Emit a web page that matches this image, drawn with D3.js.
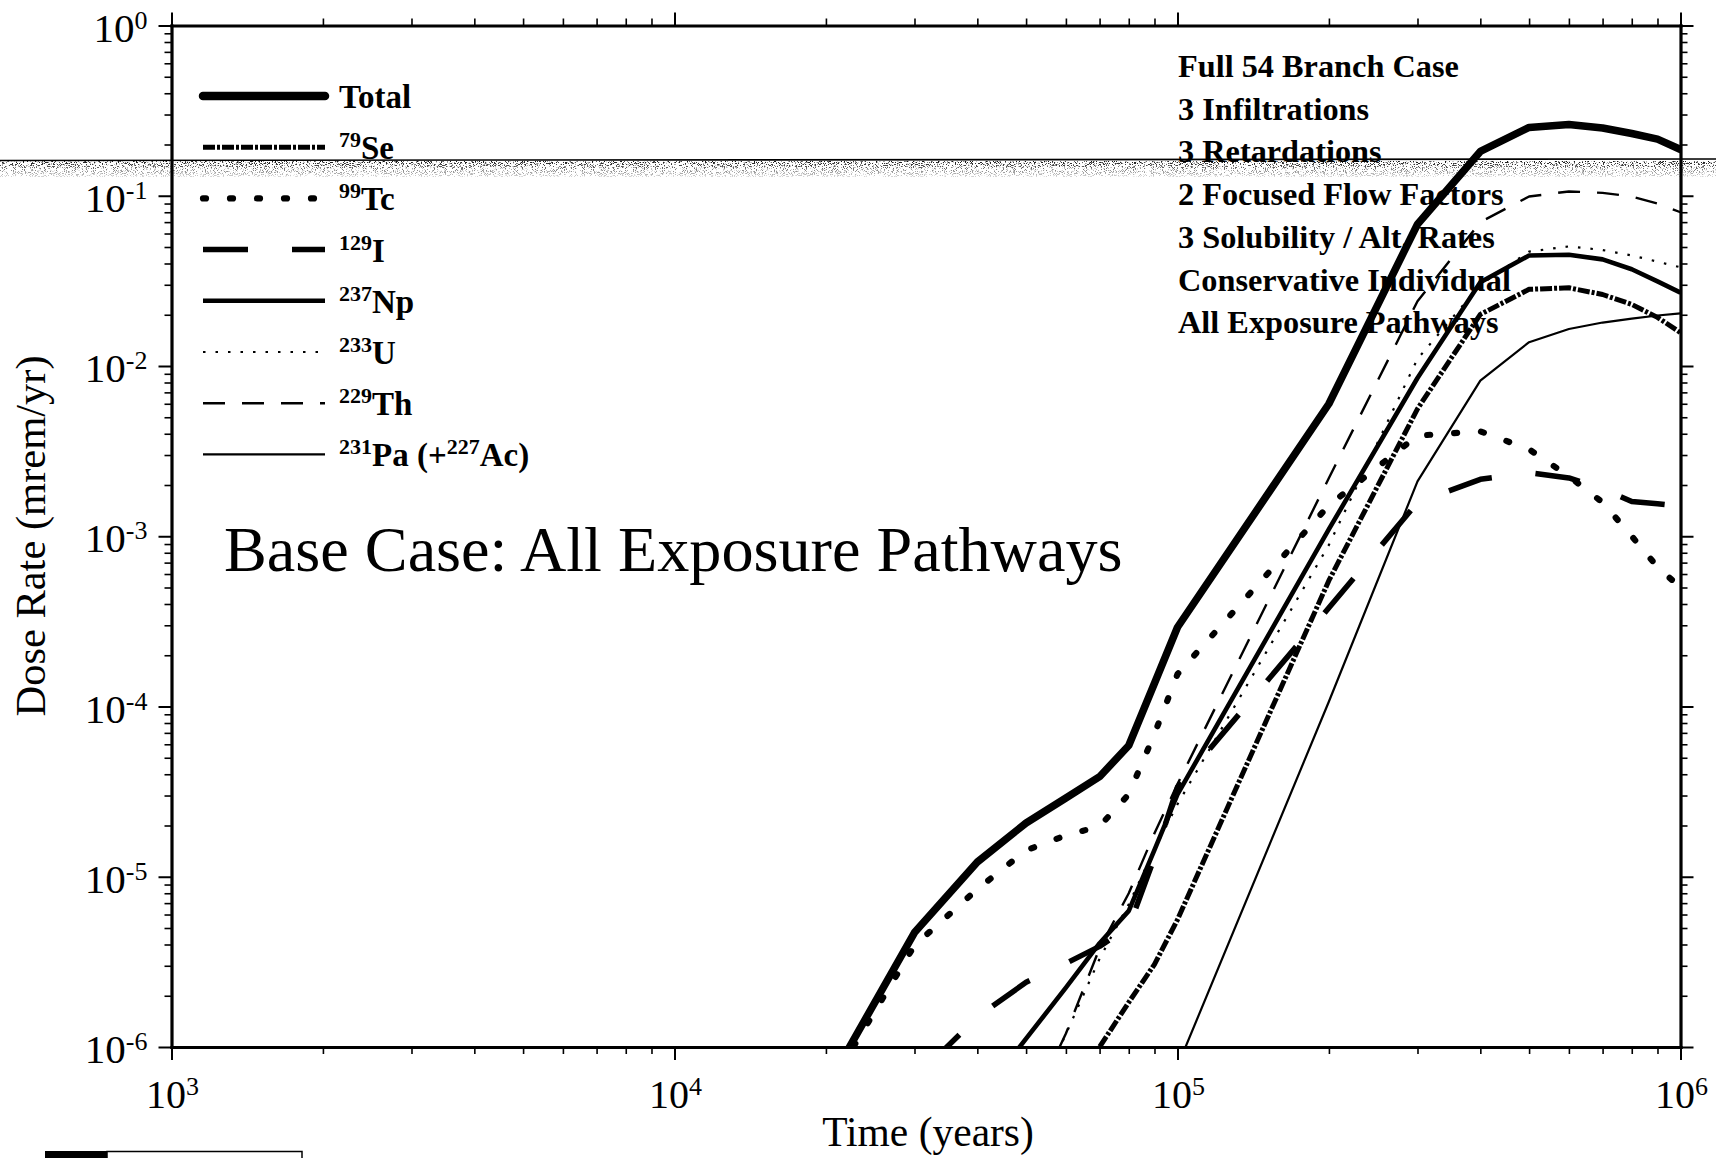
<!DOCTYPE html>
<html>
<head>
<meta charset="utf-8">
<script src="https://cdn.jsdelivr.net/npm/d3@7"></script>
<style>
  html, body { margin: 0; padding: 0; background: #fff; }
  svg { display: block; }
  text { font-family: "Liberation Serif", "Times New Roman", Times, serif; fill: #000; }
</style>
</head>
<body>
<svg id="chart" width="1716" height="1158"></svg>
<script>
// Time steps of the dose-rate history (years)
const times = [2e4, 3e4, 4e4, 5e4, 6e4, 7e4, 8e4, 9e4, 1e5, 2e5, 3e5, 4e5, 5e5, 6e5, 7e5, 8e5, 9e5, 1e6];

// Dose rate (mrem/yr) for each radionuclide; null = not yet released
const total = [5.7e-7, 4.7e-6, 1.22e-5, 2.07e-5, 2.9e-5, 3.87e-5, 5.9e-5, 1.37e-4, 2.92e-4, 6.0e-3, 0.068, 0.182, 0.252, 0.262, 0.25, 0.232, 0.215, 0.187];
const se79  = [null, null, null, null, 4.0e-7, 1.0e-6, 1.83e-6, 3.06e-6, 5.6e-6, 5.5e-4, 5.6e-3, 0.0201, 0.0282, 0.0288, 0.0263, 0.023, 0.0193, 0.0157];
const tc99  = [5.4e-7, 3.95e-6, 8.45e-6, 1.43e-5, 1.75e-5, 1.98e-5, 3.05e-5, 6.9e-5, 1.55e-4, 1.52e-3, 3.9e-3, 4.13e-3, 3.24e-3, 2.25e-3, 1.58e-3, 1.0e-3, 6.6e-4, 5.0e-4];
const i129  = [null, 6.5e-7, 1.5e-6, 2.4e-6, 3.1e-6, 3.9e-6, 5.05e-6, 1.3e-5, 3.36e-5, 3.8e-4, 1.58e-3, 2.16e-3, 2.36e-3, 2.2e-3, 1.9e-3, 1.6e-3, 1.55e-3, 1.5e-3];
const np237 = [null, null, 4.8e-7, 1.12e-6, 2.23e-6, 4.07e-6, 6.3e-6, 1.44e-5, 3.05e-5, 1.1e-3, 8.5e-3, 0.031, 0.0446, 0.045, 0.0423, 0.037, 0.0314, 0.027];
const u233  = [null, null, null, 3.7e-7, 1.19e-6, 3.3e-6, 6.9e-6, 1.45e-5, 2.67e-5, 8.9e-4, 0.011, 0.030, 0.047, 0.0504, 0.048, 0.0446, 0.041, 0.038];
const th229 = [null, null, null, 3.8e-7, 1.2e-6, 3.8e-6, 8.0e-6, 1.8e-5, 3.5e-5, 2.2e-3, 0.024, 0.07, 0.099, 0.106, 0.104, 0.099, 0.09, 0.08];
const pa231 = [null, null, null, null, null, null, null, null, 7.7e-7, 1.07e-4, 2.1e-3, 8.2e-3, 0.0138, 0.0165, 0.018, 0.019, 0.0198, 0.0204];

// Legend labels: [text, isSuperscript]
const legendLabels = {
  total: [["Total", false]],
  se79:  [["79", true], ["Se", false]],
  tc99:  [["99", true], ["Tc", false]],
  i129:  [["129", true], ["I", false]],
  np237: [["237", true], ["Np", false]],
  u233:  [["233", true], ["U", false]],
  th229: [["229", true], ["Th", false]],
  pa231: [["231", true], ["Pa (+", false], ["227", true], ["Ac)", false]]
};

// Case description block
const caseLines = ["Full 54 Branch Case", "3 Infiltrations", "3 Retardations", "2 Focused Flow Factors",
                   "3 Solubility / Alt. Rates", "Conservative Individual", "All Exposure Pathways"];

// Axis tick exponents
const xExponents = [3, 4, 5, 6];
const yExponents = [0, -1, -2, -3, -4, -5, -6];

const chartTitle = "Base Case: All Exposure Pathways";
const xTitle = "Time (years)";
const yTitle = "Dose Rate (mrem/yr)";

// ---------------------------------------------------------------
const svg = d3.select("#chart");
const W = 1716, H = 1158;
const X0 = 171.5, X1 = 1680.5, Y0 = 1047, Y1 = 25.5;

const x = d3.scaleLog().domain([1e3, 1e6]).range([X0, X1]);
const y = d3.scaleLog().domain([1e-6, 1]).range([Y0, Y1]);

svg.append("rect").attr("width", W).attr("height", H).attr("fill", "#fff");

const defs = svg.append("defs");
defs.append("clipPath").attr("id", "plotClip")
  .append("rect").attr("x", X0).attr("y", Y1).attr("width", X1 - X0).attr("height", Y0 - Y1);

// series styling
const series = [
  { key: "pa231", values: pa231, width: 2.2, dash: null, cap: "butt", offset: 0 },
  { key: "th229", values: th229, width: 2.4, dash: "22,17", cap: "butt", offset: 0 },
  { key: "u233",  values: u233,  width: 2.2, dash: "2.5,10", cap: "butt", offset: 0 },
  { key: "np237", values: np237, width: 4.6, dash: null, cap: "butt", offset: 0 },
  { key: "i129",  values: i129,  width: 5.5, dash: "45,44", cap: "butt", offset: -18 },
  { key: "tc99",  values: tc99,  width: 6.2, dash: "3,24", cap: "round", offset: 0 },
  { key: "se79",  values: se79,  width: 5,   dash: "12,2,3,2", cap: "butt", offset: 0 },
  { key: "total", values: total, width: 7.5, dash: null, cap: "round", offset: 0 }
];
const legendOrder = ["total", "se79", "tc99", "i129", "np237", "u233", "th229", "pa231"];

const line = d3.line()
  .defined(d => d[1] != null)
  .x(d => x(d[0]))
  .y(d => y(d[1]));

const gLines = svg.append("g").attr("clip-path", "url(#plotClip)");
series.forEach(s => {
  gLines.append("path")
    .datum(times.map((t, i) => [t, s.values[i]]))
    .attr("d", line)
    .attr("fill", "none")
    .attr("stroke", "#000")
    .attr("stroke-width", s.width)
    .attr("stroke-linejoin", "round")
    .attr("stroke-linecap", s.cap)
    .attr("stroke-dasharray", s.dash)
    .attr("stroke-dashoffset", s.offset);
});

// ---------------------------------------------------------------
// axes: majors (long ticks) and minors (short ticks) on all four sides
const majorX = xExponents.map(e => Math.pow(10, e));
const minorX = [];
for (let e = 3; e < 6; e++) for (let m = 2; m <= 9; m++) minorX.push(m * Math.pow(10, e));
const majorY = yExponents.map(e => Math.pow(10, e));
const minorY = [];
for (let e = -6; e < 0; e++) for (let m = 2; m <= 9; m++) minorY.push(m * Math.pow(10, e));

function drawAxis(gen, scale, tr, majors, minors) {
  const gMin = svg.append("g").attr("transform", tr)
    .call(gen(scale).tickValues(minors).tickSize(7).tickSizeOuter(0).tickFormat(""));
  gMin.select(".domain").remove();
  gMin.selectAll(".tick line").attr("stroke", "#000").attr("stroke-width", 1.6);
  const gMaj = svg.append("g").attr("transform", tr)
    .call(gen(scale).tickValues(majors).tickSize(13).tickSizeOuter(0).tickFormat(""));
  gMaj.select(".domain").attr("stroke", "#000").attr("stroke-width", 3.2).attr("stroke-linecap", "square");
  gMaj.selectAll(".tick line").attr("stroke", "#000").attr("stroke-width", 2);
}
drawAxis(d3.axisBottom, x, `translate(0,${Y0})`, majorX, minorX);
drawAxis(d3.axisTop, x, `translate(0,${Y1})`, majorX, minorX);
drawAxis(d3.axisLeft, y, `translate(${X0},0)`, majorY, minorY);
drawAxis(d3.axisRight, y, `translate(${X1},0)`, majorY, minorY);

// tick labels "10" with superscript exponent
xExponents.forEach(e => {
  const t = svg.append("text")
    .attr("x", x(Math.pow(10, e)) + 1)
    .attr("y", Y0 + 61)
    .attr("text-anchor", "middle");
  t.append("tspan").attr("font-size", 40).text("10");
  t.append("tspan").attr("font-size", 26).attr("dy", -13).text(e);
});
yExponents.forEach(e => {
  const t = svg.append("text")
    .attr("x", X0 - 24)
    .attr("y", y(Math.pow(10, e)) + 16)
    .attr("text-anchor", "end");
  t.append("tspan").attr("font-size", 41).text("10");
  t.append("tspan").attr("font-size", 26).attr("dy", -13).text(e === 0 ? "0" : "-" + Math.abs(e));
});

// axis titles
svg.append("text")
  .attr("x", (X0 + X1) / 2 + 2)
  .attr("y", 1146)
  .attr("text-anchor", "middle")
  .attr("font-size", 41.5)
  .text(xTitle);
svg.append("text")
  .attr("transform", `translate(45,536) rotate(-90)`)
  .attr("text-anchor", "middle")
  .attr("font-size", 42.5)
  .text(yTitle);

// in-plot title
svg.append("text")
  .attr("x", 224)
  .attr("y", 571)
  .attr("font-size", 64.2)
  .text(chartTitle);

// case description
caseLines.forEach((s, i) => {
  svg.append("text")
    .attr("x", 1178)
    .attr("y", 77 + i * 42.7)
    .attr("font-size", 32.3)
    .attr("font-weight", "bold")
    .text(s);
});

// ---------------------------------------------------------------
// legend
const styleByKey = Object.fromEntries(series.map(s => [s.key, s]));
legendOrder.forEach((k, i) => {
  const s = styleByKey[k];
  const ly = 96 + i * 51.2;
  svg.append("line")
    .attr("x1", 203).attr("x2", 325)
    .attr("y1", ly).attr("y2", ly)
    .attr("stroke", "#000")
    .attr("stroke-width", k === "total" ? 8.5 : s.width)
    .attr("stroke-linecap", s.cap)
    .attr("stroke-dasharray", s.dash);
  const t = svg.append("text")
    .attr("x", 339)
    .attr("y", ly + 12)
    .attr("font-weight", "bold");
  let raised = false;
  legendLabels[k].forEach(([txt, sup]) => {
    const ts = t.append("tspan").text(txt);
    if (sup) {
      ts.attr("font-size", 22).attr("dy", raised ? 0 : -12);
      raised = true;
    } else {
      ts.attr("font-size", 33).attr("dy", raised ? 12 : 0);
      raised = false;
    }
  });
});

// ---------------------------------------------------------------
// scan streak across the sheet
const speck = defs.append("filter").attr("id", "speckle")
  .attr("x", 0).attr("y", 0).attr("width", 1).attr("height", 1);
speck.append("feTurbulence")
  .attr("type", "fractalNoise").attr("baseFrequency", "0.9 1.1")
  .attr("numOctaves", 2).attr("seed", 11).attr("result", "noise");
speck.append("feColorMatrix").attr("in", "noise").attr("type", "matrix")
  .attr("values", "0 0 0 0 0  0 0 0 0 0  0 0 0 0 0  9 0 0 0 -4.9");
const grad = defs.append("linearGradient").attr("id", "fade")
  .attr("x1", 0).attr("y1", 0).attr("x2", 0).attr("y2", 1);
grad.append("stop").attr("offset", 0).attr("stop-color", "#fff").attr("stop-opacity", 1);
grad.append("stop").attr("offset", 1).attr("stop-color", "#fff").attr("stop-opacity", 0.15);
defs.append("mask").attr("id", "fadeMask")
  .append("rect").attr("x", 0).attr("y", 160).attr("width", W).attr("height", 17).attr("fill", "url(#fade)");
svg.append("rect")
  .attr("x", 0).attr("y", 161).attr("width", W).attr("height", 16)
  .attr("filter", "url(#speckle)").attr("mask", "url(#fadeMask)");
svg.append("line")
  .attr("x1", 0).attr("x2", W).attr("y1", 160.5).attr("y2", 159)
  .attr("stroke", "#000").attr("stroke-width", 1.6);

// partly visible label box at the lower left edge
svg.append("rect").attr("x", 45).attr("y", 1151).attr("width", 62).attr("height", 12).attr("fill", "#000");
svg.append("rect").attr("x", 107).attr("y", 1151.5).attr("width", 195).attr("height", 12)
  .attr("fill", "none").attr("stroke", "#000").attr("stroke-width", 1.5);
</script>
</body>
</html>
